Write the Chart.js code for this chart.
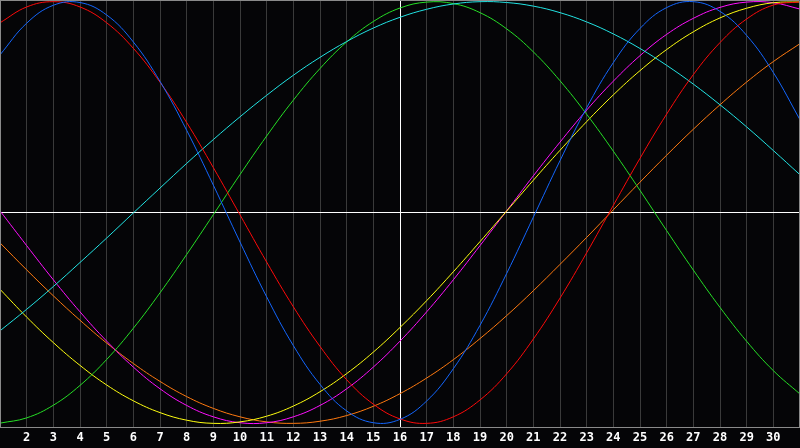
<!DOCTYPE html>
<html>
<head>
<meta charset="utf-8">
<script src="https://cdn.jsdelivr.net/npm/chart.js@4.4.0/dist/chart.umd.min.js"></script>
<style>
html,body{margin:0;padding:0;background:#050507;overflow:hidden}
canvas{display:block}
</style>
</head>
<body>
<canvas id="c" width="800" height="448"></canvas>
<script>
// x categories (day index), ticks 1 and 31 sit on the frame and are unlabeled
const xValues = [1,2,3,4,5,6,7,8,9,10,11,12,13,14,15,16,17,18,19,20,21,22,23,24,25,26,27,28,29,30,31];
const tickLabels = [2,3,4,5,6,7,8,9,10,11,12,13,14,15,16,17,18,19,20,21,22,23,24,25,26,27,28,29,30];
const markerX = 16;

const blueValues    = [0.748,0.898,0.983,0.996,0.937,0.809,0.622,0.390,0.130,-0.140,-0.400,-0.631,-0.815,-0.941,-0.997,-0.981,-0.894,-0.741,-0.535,-0.289,-0.022,0.246,0.497,0.711,0.873,0.972,1.000,0.954,0.840,0.664,0.440];
const redValues     = [0.900,0.975,1.000,0.975,0.900,0.779,0.618,0.427,0.213,-0.011,-0.235,-0.447,-0.635,-0.793,-0.909,-0.979,-1.000,-0.969,-0.889,-0.765,-0.600,-0.406,-0.191,0.034,0.257,0.467,0.654,0.806,0.918,0.984,0.999];
const cyanValues    = [-0.561,-0.459,-0.351,-0.237,-0.121,-0.002,0.116,0.233,0.346,0.454,0.556,0.651,0.736,0.811,0.875,0.926,0.964,0.989,1.000,0.996,0.979,0.948,0.904,0.847,0.778,0.698,0.609,0.511,0.406,0.294,0.179];
const greenValues   = [-0.999,-0.974,-0.914,-0.820,-0.697,-0.549,-0.381,-0.199,-0.010,0.180,0.363,0.533,0.683,0.809,0.906,0.970,0.998,0.991,0.948,0.871,0.762,0.625,0.466,0.291,0.105,-0.086,-0.273,-0.450,-0.611,-0.750,-0.861];
const yellowValues  = [-0.364,-0.496,-0.617,-0.725,-0.818,-0.893,-0.949,-0.985,-1.000,-0.993,-0.966,-0.918,-0.850,-0.764,-0.662,-0.545,-0.418,-0.281,-0.138,0.007,0.153,0.295,0.431,0.558,0.673,0.773,0.857,0.923,0.969,0.995,0.999];
const magentaValues = [0.008,-0.157,-0.319,-0.471,-0.610,-0.733,-0.836,-0.915,-0.969,-0.997,-0.997,-0.969,-0.915,-0.836,-0.733,-0.610,-0.471,-0.319,-0.157,0.008,0.174,0.334,0.486,0.623,0.744,0.845,0.921,0.973,0.998,0.995,0.965];
const orangeValues  = [-0.144,-0.272,-0.395,-0.511,-0.619,-0.716,-0.801,-0.873,-0.929,-0.969,-0.993,-1.000,-0.990,-0.963,-0.919,-0.859,-0.785,-0.698,-0.598,-0.489,-0.371,-0.246,-0.118,0.013,0.144,0.272,0.395,0.511,0.619,0.716,0.801];

const series = [
  {name:'blue',    values: blueValues,    color:'#1467ff'},
  {name:'red',     values: redValues,     color:'#ff0a0a'},
  {name:'cyan',    values: cyanValues,    color:'#22e4e4'},
  {name:'green',   values: greenValues,   color:'#26e026'},
  {name:'yellow',  values: yellowValues,  color:'#ffff10'},
  {name:'magenta', values: magentaValues, color:'#ff10ff'},
  {name:'orange',  values: orangeValues,  color:'#ff7a10'}
];

const framePlugin = {
  id:'frame',
  afterDraw(chart){
    const {ctx, chartArea:a} = chart;
    ctx.save();
    ctx.strokeStyle = '#8a8a8a';
    ctx.lineWidth = 1;
    ctx.beginPath();
    ctx.moveTo(a.left+0.5, a.bottom);
    ctx.lineTo(a.left+0.5, a.top+0.5);
    ctx.lineTo(a.right-0.5, a.top+0.5);
    ctx.lineTo(a.right-0.5, a.bottom);
    ctx.stroke();
    ctx.restore();
  }
};

new Chart(document.getElementById('c'), {
  type:'line',
  data:{
    datasets: series.map(s => ({
      label: s.name,
      data: xValues.map((x,i) => ({x, y: s.values[i]})),
      borderColor: s.color,
      borderWidth: 1,
      pointRadius: 0,
      pointHoverRadius: 0,
      pointBorderWidth: 0,
      fill: false,
      tension: 0.4
    }))
  },
  options:{
    responsive:false,
    animation:false,
    layout:{autoPadding:false, padding:0},
    plugins:{legend:{display:false}, tooltip:{enabled:false}},
    scales:{
      x:{
        type:'linear', min:1, max:31, offset:false,
        afterBuildTicks(scale){ scale.ticks = xValues.map(v => ({value:v})); },
        ticks:{
          autoSkip:false, maxRotation:0, padding:0, color:'#ffffff',
          font:{family:'DejaVu Sans Mono', size:12, weight:'bold', lineHeight:1.667},
          callback:(v) => tickLabels.includes(v) ? String(v) : ''
        },
        grid:{
          drawTicks:false, tickLength:0,
          color:(ctx) => (ctx.tick && ctx.tick.value === markerX) ? '#ffffff' : '#3a3a3a',
          lineWidth:1
        },
        border:{display:true, color:'#8a8a8a', width:1}
      },
      y:{
        type:'linear', min:-1.022, max:1.008,
        afterBuildTicks(scale){ scale.ticks = [{value:0}]; },
        ticks:{display:false, padding:0},
        grid:{drawTicks:false, tickLength:0, color:'#ffffff', lineWidth:1},
        border:{display:true, color:'#8a8a8a', width:1}
      }
    }
  },
  plugins:[framePlugin]
});
</script>
</body>
</html>
